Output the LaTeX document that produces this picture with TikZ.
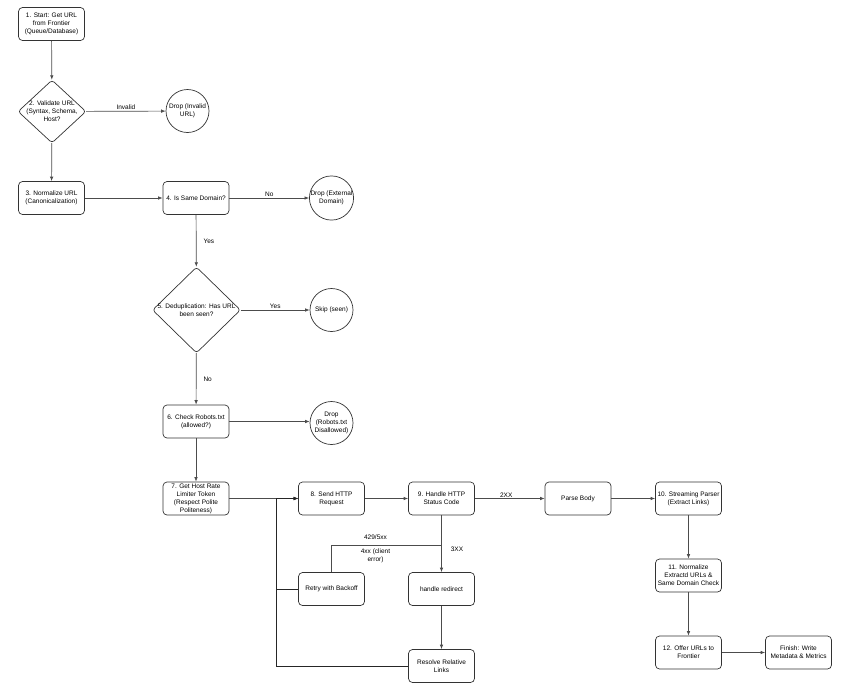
\documentclass[tikz,border=0pt]{standalone}
\usepackage{fontspec}
\setmainfont{Liberation Sans}
\usetikzlibrary{shapes.geometric,arrows.meta}

\begin{document}
\begin{tikzpicture}[x=1pt,y=-1pt,
	font=\fontsize{6.5}{8}\selectfont,
	stepbox/.style={draw=black!80, line width=0.7pt, rounded corners=4pt, minimum width=66pt, minimum height=33pt, inner sep=1pt, align=center},
	decision/.style={draw=black!80, line width=0.7pt, diamond, rounded corners=3pt, inner sep=0pt},
	dropnode/.style={draw=black!80, line width=0.7pt, circle, minimum size=43pt, inner sep=0pt, align=center},
	flow/.style={draw=black!70, line width=0.7pt, -{Latex[length=4.5pt,width=3.5pt]}},
	plainflow/.style={draw=black!70, line width=0.7pt},
	edgetext/.style={inner sep=1pt, align=center}]
	\useasboundingbox (0,0) rectangle (850,694);

	\node[stepbox] (start) at (51.5,24) {1. Start: Get URL\\from Frontier\\(Queue/Database)};
	\node[decision, minimum width=68pt, minimum height=63pt,
		label={[align=center]center:2. Validate URL\\(Syntax, Schema,\\Host?}] (validate) at (52,111.5) {};
	\node[dropnode] (dropinvalid) at (187.5,111) {Drop (Invalid\\URL)};
	\node[stepbox] (normalize) at (51.5,198) {3. Normalize URL\\(Canonicalization)};
	\node[stepbox] (samedomain) at (196,198) {4. Is Same Domain?};
	\node[dropnode] (dropexternal) at (331.5,198) {Drop (External\\Domain)};
	\node[decision, minimum width=88pt, minimum height=86pt,
		label={[align=center]center:5. Deduplication: Has URL\\been seen?}] (dedup) at (196.5,310) {};
	\node[dropnode] (skip) at (331.5,310) {Skip (seen)};
	\node[stepbox] (robots) at (196,421.5) {6. Check Robots.txt\\(allowed?)};
	\node[dropnode] (droprobots) at (331.5,423) {Drop\\(Robots.txt\\Disallowed)};
	\node[stepbox] (ratelimit) at (196,498.5) {7. Get Host Rate\\Limiter Token\\(Respect Polite\\Politeness)};
	\node[stepbox] (send) at (331.5,498.5) {8. Send HTTP\\Request};
	\node[stepbox] (status) at (441.5,498.5) {9. Handle HTTP\\Status Code};
	\node[stepbox] (parse) at (578,498.5) {Parse Body};
	\node[stepbox] (stream) at (688.5,498.5) {10. Streaming Parser\\(Extract Links)};
	\node[stepbox] (extracted) at (688.5,575.5) {11. Normalize\\Extractd URLs \&\\Same Domain Check};
	\node[stepbox] (offer) at (688.5,652.5) {12. Offer URLs to\\Frontier};
	\node[stepbox] (finish) at (798.5,652.5) {Finish: Write\\Metadata \& Metrics};
	\node[stepbox] (retry) at (331.5,589) {Retry with Backoff};
	\node[stepbox] (redirect) at (441.5,589) {handle redirect};
	\node[stepbox] (resolve) at (441.5,666) {Resolve Relative\\Links};

	\coordinate (loop) at (276,0);
	\coordinate (split) at (0,545);

	\draw[flow] (start) -- (validate);
	\draw[flow] (validate) -- node[edgetext, above]{Invalid} (dropinvalid);
	\draw[flow] (validate) -- (normalize);
	\draw[flow] (normalize) -- (samedomain);
	\draw[flow] (samedomain) -- node[edgetext, above]{No} (dropexternal);
	\draw[flow] (samedomain) -- node[edgetext, right=6pt]{Yes} (dedup);
	\draw[flow] (dedup) -- node[edgetext, above]{Yes} (skip);
	\draw[flow] (dedup) -- node[edgetext, right=6pt]{No} (robots);
	\draw[flow] (robots.east) -- (robots.east -| droprobots.west);
	\draw[flow] (robots) -- (ratelimit);
	\draw[flow] (ratelimit) -- (send);
	\draw[flow] (send) -- (status);
	\draw[flow] (status) -- node[edgetext, above, pos=0.45]{2XX} (parse);
	\draw[flow] (parse) -- (stream);
	\draw[flow] (stream) -- (extracted);
	\draw[flow] (extracted) -- (offer);
	\draw[flow] (offer) -- (finish);
	\draw[flow] (status) -- node[edgetext, right=8pt, pos=0.6]{3XX} (redirect);
	\draw[plainflow] (status.south) -- (status.south |- split) -| (retry.north)
		node[edgetext, pos=0.3, above=4pt]{429/5xx}
		node[edgetext, pos=0.3, below=2pt]{4xx (client\\error)};
	\draw[flow] (redirect) -- (resolve);
	\draw[flow, draw=black!85] (retry.west) -| (loop |- send.west) -- (send.west);
	\draw[flow, draw=black!85] (resolve.west) -| (loop |- send.west) -- (send.west);
\end{tikzpicture}
\end{document}
